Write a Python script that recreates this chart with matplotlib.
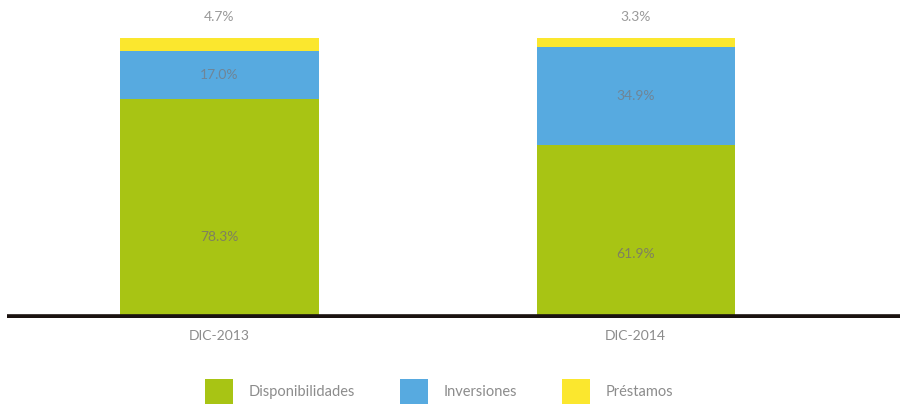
import matplotlib
matplotlib.use("Agg")
import matplotlib.pyplot as plt
import numpy as np

# data
periods = ["DIC-2013", "DIC-2014"]
series = ["Disponibilidades", "Inversiones", "Préstamos"]
disponibilidades = [78.3, 61.9]
inversiones = [17.0, 34.9]
prestamos = [4.7, 3.3]

colors = ["#A8C414", "#57AAE0", "#FBE72E"]
plt.rcParams['font.family'] = ['Lato', 'DejaVu Sans']

fig = plt.figure(figsize=(9.0, 4.04), dpi=100)
ax = fig.add_axes([0.008, 0.213, 0.992, 0.787])

x = np.arange(len(periods))
width = 0.476
values = [disponibilidades, inversiones, prestamos]
bottom = np.zeros(len(periods))
bars = []
for name, vals, col in zip(series, values, colors):
    b = ax.bar(x, vals, width, bottom=bottom, color=col, label=name,
               edgecolor='none', zorder=2)
    bars.append(b)
    bottom = bottom + np.array(vals)

# value labels
for i in range(len(periods)):
    d, inv, p = disponibilidades[i], inversiones[i], prestamos[i]
    ax.text(x[i], d * 0.37, "%.1f%%" % d, ha='center', va='center',
            color='#7f8060', fontsize=10)
    ax.text(x[i], d + inv / 2, "%.1f%%" % inv, ha='center', va='center',
            color='#6f8597', fontsize=10)
    ax.text(x[i], d + inv + p + 7.5, "%.1f%%" % p, ha='center', va='center',
            color='#9a9a9a', fontsize=10)

ax.set_xlim(-0.51, 1.635)
ax.set_ylim(0, 113.6)
ax.axhline(0, color='#1a1210', linewidth=5.5, zorder=3)

for s in ax.spines.values():
    s.set_visible(False)
ax.set_yticks([])
ax.set_xticks(x)
ax.set_xticklabels(periods, color='#8c8c8c', fontsize=10)
ax.tick_params(axis='x', length=0, pad=9)

fig.legend(handles=bars, labels=series, loc='center',
           bbox_to_anchor=(0.488, 0.03), ncol=3, frameon=False,
           handlelength=1.92, handleheight=2.4,
           handletextpad=1.1, columnspacing=3.05, labelcolor='#8c8c8c',
           prop={'size': 10.5})

fig.savefig("out.png", dpi=100)
